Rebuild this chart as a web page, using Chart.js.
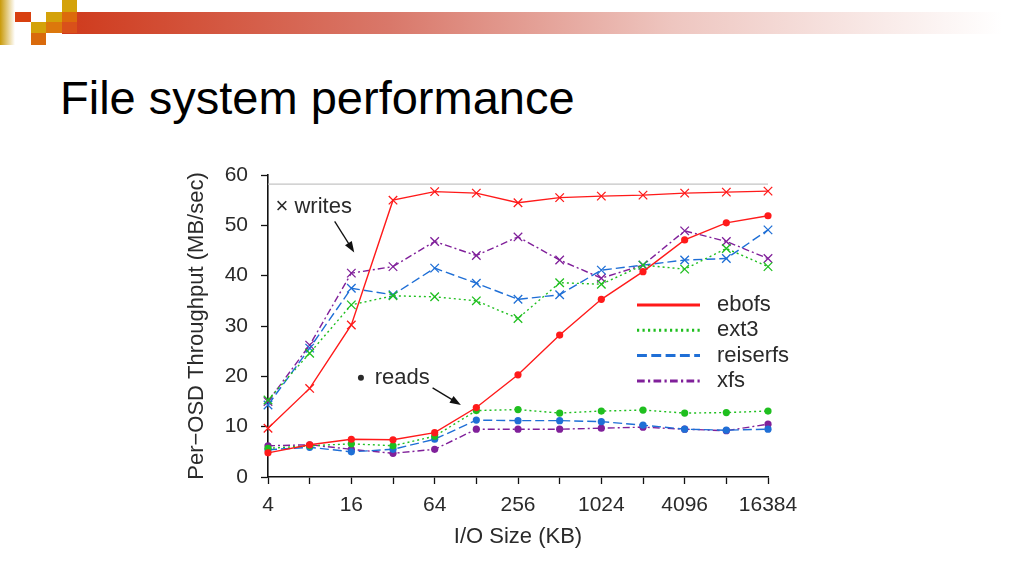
<!DOCTYPE html>
<html>
<head>
<meta charset="utf-8">
<script src="https://cdn.jsdelivr.net/npm/chart.js@4.4.1/dist/chart.umd.min.js"></script>
<style>
	html, body { margin:0; padding:0; background:#fff; }
	#page { position:relative; width:1024px; height:576px; overflow:hidden; font-family:"Liberation Sans", Arial, sans-serif; }
	.sq { position:absolute; }
	#strip { position:absolute; left:0; top:0; width:15px; height:45px; background:linear-gradient(to right, #c99a08, #fff); }
	#band { position:absolute; left:62px; top:12px; width:940px; height:22px; background:linear-gradient(to right, #cf3a1c 0%, #d9786a 35%, #eec6c0 65%, #fff 100%); }
	#title { position:absolute; left:60px; top:71px; font-size:47px; line-height:54px; color:#000; }
	#wrap { position:absolute; left:0; top:0; width:1024px; height:576px; }
</style>
</head>
<body>
<div id="page">
	<div id="strip"></div>
	<div id="band"></div>
	<div class="sq" style="left:62px;top:0;width:15px;height:12px;background:#d4a20a"></div>
	<div class="sq" style="left:15px;top:12px;width:16px;height:10px;background:#d8400f"></div>
	<div class="sq" style="left:46px;top:12px;width:16px;height:10px;background:#d4a20a"></div>
	<div class="sq" style="left:62px;top:12px;width:15px;height:10px;background:#dc6a0c"></div>
	<div class="sq" style="left:31px;top:22px;width:15px;height:11px;background:#d4a20a"></div>
	<div class="sq" style="left:46px;top:22px;width:16px;height:11px;background:#dc780c"></div>
	<div class="sq" style="left:62px;top:22px;width:15px;height:11px;background:#d9501a"></div>
	<div class="sq" style="left:31px;top:33px;width:15px;height:12px;background:#d96a0c"></div>
	<div id="title">File system performance</div>
	<div id="wrap"><canvas id="chart" width="1024" height="576"></canvas></div>
</div>
<script>
// I/O sizes in KB (log2 steps)
const ioSizes = ['4','8','16','32','64','128','256','512','1024','2048','4096','8192','16384'];

// writes, MB/sec per OSD
const ebofsWrites    = [9.7, 17.6, 30.2, 55.0, 56.7, 56.4, 54.5, 55.5, 55.8, 56.0, 56.4, 56.6, 56.8];
const ext3Writes     = [15.3, 24.6, 34.2, 36.0, 35.8, 35.0, 31.5, 38.6, 38.3, 42.1, 41.3, 45.4, 41.8];
const reiserfsWrites = [14.3, 25.6, 37.5, 36.2, 41.5, 38.5, 35.3, 36.2, 41.1, 42.1, 43.1, 43.4, 49.1];
const xfsWrites      = [15.0, 26.2, 40.5, 41.8, 46.8, 44.0, 47.7, 43.1, 39.5, 42.1, 48.9, 46.8, 43.4];

// reads, MB/sec per OSD
const ebofsReads    = [4.8, 6.4, 7.5, 7.4, 8.8, 13.8, 20.3, 28.2, 35.3, 40.8, 47.1, 50.5, 51.9];
const ext3Reads     = [5.7, 6.2, 6.6, 6.2, 8.1, 13.2, 13.4, 12.7, 13.1, 13.3, 12.7, 12.8, 13.1];
const reiserfsReads = [5.4, 5.9, 5.0, 5.5, 7.5, 11.3, 11.2, 11.2, 11.0, 10.3, 9.5, 9.3, 9.5];
const xfsReads      = [6.2, 6.4, 5.5, 4.7, 5.5, 9.5, 9.5, 9.5, 9.7, 9.9, 9.5, 9.2, 10.5];

// raw disk limit (grey line)
const diskLimit = 58.2;

const yTicks = [0, 10, 20, 30, 40, 50, 60];

(function(){
	const FONT = '"Liberation Sans", Arial, sans-serif';
	const TEXT = '#2a2a2a';

	const fsStyles = [
		{ name:'ebofs',    color:'#ff1a1a', dash:[] ,          writes:ebofsWrites,    reads:ebofsReads },
		{ name:'ext3',     color:'#1fbf1f', dash:[2,3],        writes:ext3Writes,     reads:ext3Reads },
		{ name:'reiserfs', color:'#1f6fd6', dash:[9,4],        writes:reiserfsWrites, reads:reiserfsReads },
		{ name:'xfs',      color:'#80209a', dash:[7,3,2,3],    writes:xfsWrites,      reads:xfsReads }
	];

	const datasets = [];
	fsStyles.forEach(fs => {
		datasets.push({
			label: fs.name + ' writes', data: fs.writes,
			borderColor: fs.color, backgroundColor: fs.color, borderWidth: 1.4, borderDash: fs.dash,
			pointStyle: 'crossRot', pointRadius: 6, pointBorderWidth: 1.3, pointBorderColor: fs.color,
			tension: 0
		});
		datasets.push({
			label: fs.name + ' reads', data: fs.reads,
			borderColor: fs.color, backgroundColor: fs.color, borderWidth: 1.4, borderDash: fs.dash,
			pointStyle: 'circle', pointRadius: 3.6, pointBorderWidth: 0, pointBackgroundColor: fs.color,
			tension: 0
		});
	});

	// grey limit line, labels for writes/reads and the legend
	const overlay = {
		id: 'overlay',
		beforeDatasetsDraw(chart){
			const { ctx, chartArea, scales:{ y } } = chart;
			const py = y.getPixelForValue(diskLimit);
			ctx.save();
			ctx.strokeStyle = '#c4c4c4';
			ctx.lineWidth = 1.2;
			ctx.beginPath();
			ctx.moveTo(chartArea.left, py);
			ctx.lineTo(chartArea.right, py);
			ctx.stroke();
			ctx.restore();
		},
		afterDatasetsDraw(chart){
			const { ctx, chartArea, scales:{ x, y } } = chart;
			const px = v => x.getPixelForValue(v);
			const py = v => y.getPixelForValue(v);
			ctx.save();
			ctx.fillStyle = TEXT;
			ctx.strokeStyle = '#111';
			ctx.font = '22px ' + FONT;
			ctx.textBaseline = 'middle';

			// x writes
			ctx.textAlign = 'left';
			ctx.fillText('\u00d7 writes', px(0.18), py(53.6));
			arrow(ctx, px(1.6), py(50.8), px(2.07), py(44.6));

			// . reads
			ctx.beginPath();
			ctx.arc(px(2.23), py(19.7), 3, 0, Math.PI*2);
			ctx.fill();
			ctx.fillText('reads', px(2.56), py(19.7));
			arrow(ctx, px(3.95), py(17.7), px(4.63), py(14.3));

			// legend
			const lx = chartArea.right - 131;
			fsStyles.forEach((fs, i) => {
				const ly = chartArea.top + 130 + i * 25.3;
				ctx.strokeStyle = fs.color;
				ctx.lineWidth = 3;
				ctx.setLineDash(fs.dash.map(d => d * 1.1));
				ctx.beginPath();
				ctx.moveTo(lx, ly);
				ctx.lineTo(lx + 63, ly);
				ctx.stroke();
				ctx.setLineDash([]);
				ctx.fillStyle = TEXT;
				ctx.fillText(fs.name, lx + 80, ly);
			});
			ctx.restore();
		}
	};

	function arrow(ctx, x1, y1, x2, y2){
		const ang = Math.atan2(y2 - y1, x2 - x1);
		ctx.save();
		ctx.strokeStyle = '#111';
		ctx.fillStyle = '#111';
		ctx.lineWidth = 1.3;
		ctx.beginPath();
		ctx.moveTo(x1, y1);
		ctx.lineTo(x2 - 6 * Math.cos(ang), y2 - 6 * Math.sin(ang));
		ctx.stroke();
		ctx.beginPath();
		ctx.moveTo(x2, y2);
		ctx.lineTo(x2 - 11 * Math.cos(ang) + 4 * Math.sin(ang), y2 - 11 * Math.sin(ang) - 4 * Math.cos(ang));
		ctx.lineTo(x2 - 11 * Math.cos(ang) - 4 * Math.sin(ang), y2 - 11 * Math.sin(ang) + 4 * Math.cos(ang));
		ctx.closePath();
		ctx.fill();
		ctx.restore();
	}

	new Chart(document.getElementById('chart'), {
		type: 'line',
		data: { labels: ioSizes, datasets },
		options: {
			responsive: false,
			animation: false,
			layout: { padding: { left: 180, top: 175, right: 256, bottom: 0 } },
			plugins: { legend: { display: false }, tooltip: { enabled: false } },
			scales: {
				x: {
					type: 'category',
					offset: false,
					grid: { drawOnChartArea: false, drawTicks: true, tickLength: 7, color: '#111', tickWidth: 1.3 },
					border: { color: '#111', width: 1.6 },
					ticks: {
						autoSkip: false, maxRotation: 0, padding: 9,
						color: TEXT, font: { family: FONT, size: 21 },
						callback: (v, i) => i % 2 === 0 ? ioSizes[i] : ''
					},
					title: { display: true, text: 'I/O Size (KB)', color: TEXT, font: { family: FONT, size: 22 }, padding: { top: 0, bottom: 26 } },
					afterFit: s => { s.height = 99; }
				},
				y: {
					min: 0, max: 60,
					grid: { drawOnChartArea: false, drawTicks: true, tickLength: 7, color: '#111', tickWidth: 1.3 },
					border: { color: '#111', width: 1.6 },
					ticks: {
						stepSize: 5, padding: 13,
						color: TEXT, font: { family: FONT, size: 21 },
						callback: v => yTicks.includes(v) ? String(v) : ''
					},
					title: { display: true, text: 'Per\u2212OSD Throughput (MB/sec)', color: TEXT, font: { family: FONT, size: 22 }, padding: { top: 4, bottom: 0 } },
					afterFit: s => { s.width = 88; }
				}
			}
		},
		plugins: [overlay]
	});
})();
</script>
</body>
</html>
